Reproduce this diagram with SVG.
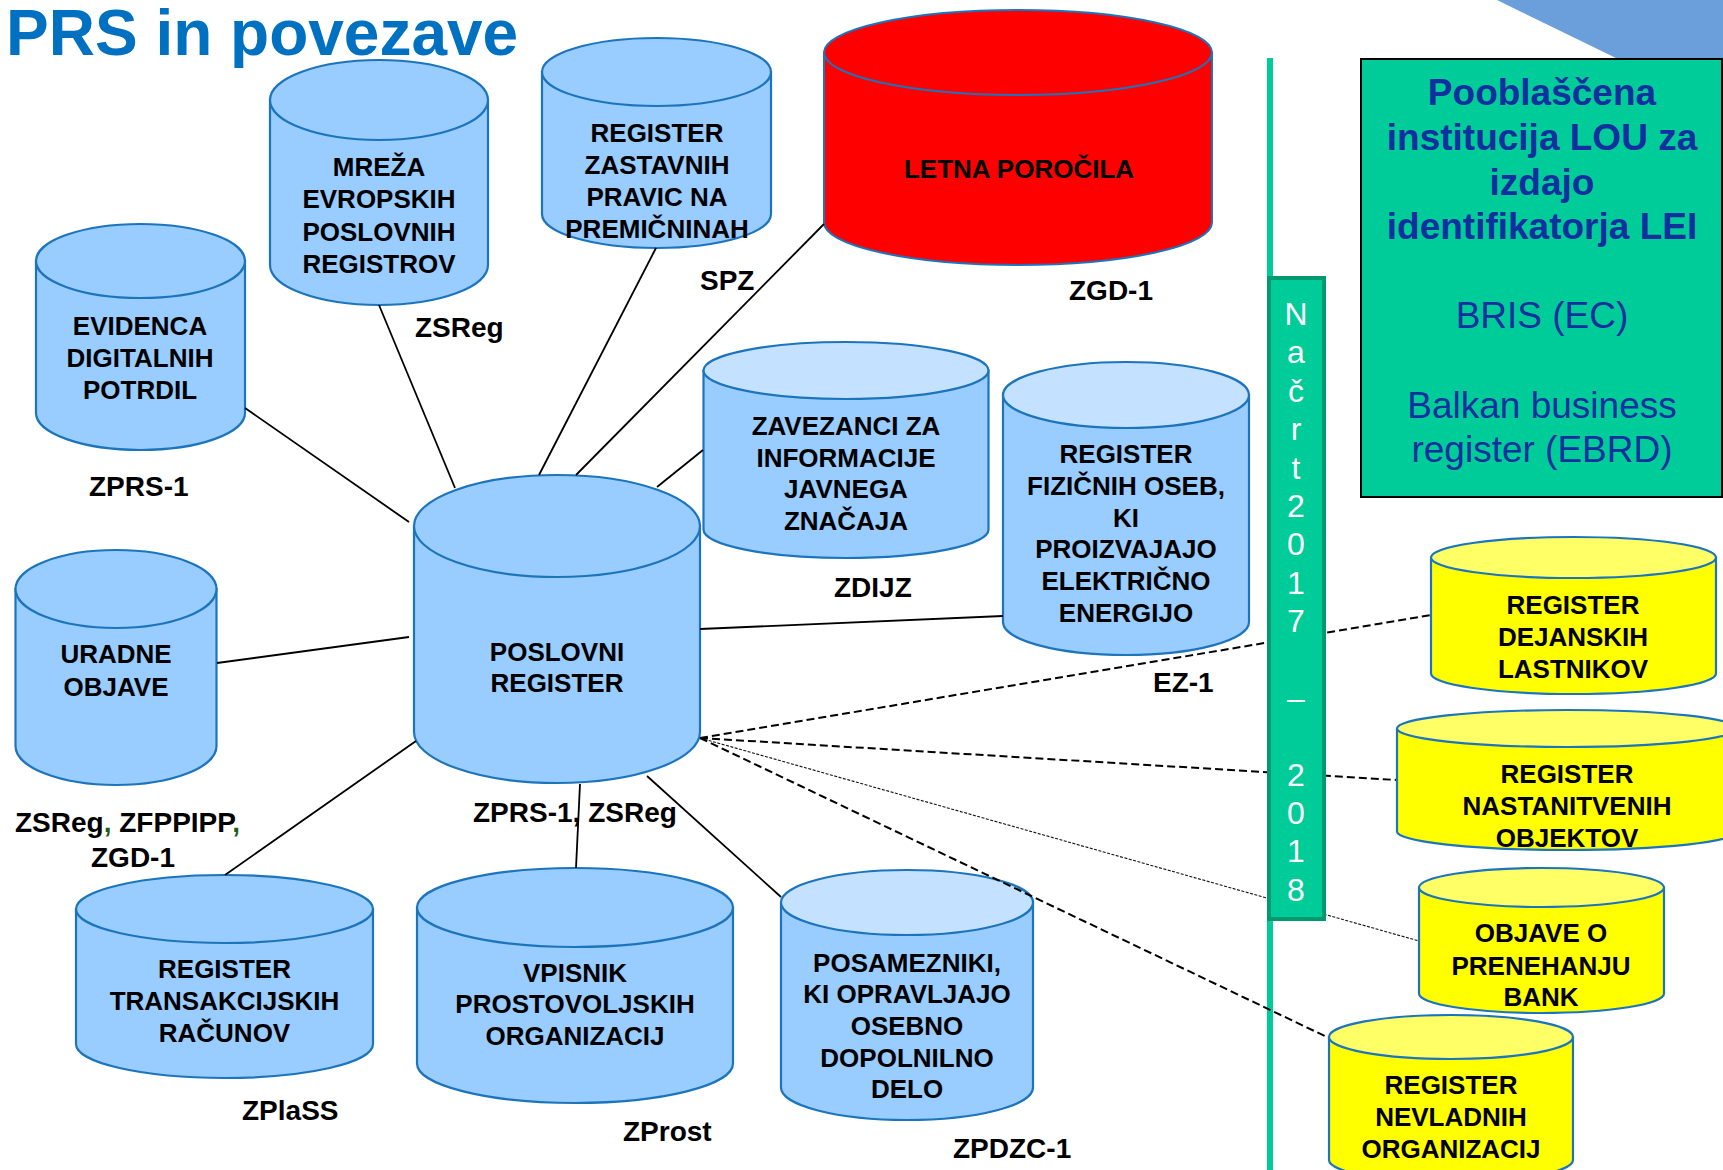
<svg xmlns="http://www.w3.org/2000/svg" width="1723" height="1170" viewBox="0 0 1723 1170">
<style>
.cb{fill:#99CCFF;stroke:#1C75BC;stroke-width:2.2}
.cl{fill:#C4E1FF;stroke:#1C75BC;stroke-width:2.2}
.cy{fill:#FFFF00;stroke:#1C75BC;stroke-width:2.2}
.cyt{fill:#FFFF66;stroke:#1C75BC;stroke-width:2.2}
.cr{fill:#FF0000;stroke:#1C75BC;stroke-width:2}
.t{font-family:"Liberation Sans",Arial,sans-serif;font-weight:bold;font-size:26px;text-anchor:middle;fill:#000}
.lb{font-family:"Liberation Sans",Arial,sans-serif;font-weight:bold;font-size:28px;fill:#000}
.ln{stroke:#000;stroke-width:1.8;fill:none}
.dl{stroke:#000;stroke-width:2;stroke-dasharray:8 4;fill:none}
.df{stroke:#111;stroke-width:1.1;stroke-dasharray:3 1.5;fill:none}
.nc{font-family:"Liberation Sans",Arial,sans-serif;font-size:32px;text-anchor:middle;fill:#FFFFFF}
.bx{font-family:"Liberation Sans",Arial,sans-serif;font-size:37px;text-anchor:middle;fill:#112F9E}
</style>
<rect x="0" y="0" width="1723" height="1170" fill="#FFFFFF"/>
<polygon points="1497,0 1723,0 1723,60 1620,60" fill="#6A9FDC"/>
<rect x="1267" y="58" width="6" height="1112" fill="#00CC99"/>

<text x="6" y="55" font-family="Liberation Sans, Arial, sans-serif" font-weight="bold" font-size="64" fill="#0070C0">PRS in povezave</text>

<g id="mreza">
<path class="cb" d="M270,100 V265 A109,40 0 0 0 488,265 V100 Z"/>
<ellipse class="cb" cx="379" cy="100" rx="109" ry="40"/>
<text class="t" x="379" y="176">MREŽA</text>
<text class="t" x="379" y="208">EVROPSKIH</text>
<text class="t" x="379" y="241">POSLOVNIH</text>
<text class="t" x="379" y="273">REGISTROV</text>
</g>

<g id="zastavnih">
<path class="cb" d="M542,72 V214 A114.5,34 0 0 0 771,214 V72 Z"/>
<ellipse class="cb" cx="656.5" cy="72" rx="114.5" ry="34"/>
<text class="t" x="657" y="142">REGISTER</text>
<text class="t" x="657" y="174">ZASTAVNIH</text>
<text class="t" x="657" y="206">PRAVIC NA</text>
<text class="t" x="657" y="238">PREMIČNINAH</text>
</g>

<g id="letna">
<path class="cr" d="M824,52.5 V222.5 A194,42.5 0 0 0 1212,222.5 V52.5 Z"/>
<ellipse class="cr" cx="1018" cy="52.5" rx="194" ry="42.5"/>
<text class="t" x="1019" y="178">LETNA POROČILA</text>
</g>

<g id="evidenca">
<path class="cb" d="M36,261 V413 A104.5,37 0 0 0 245,413 V261 Z"/>
<ellipse class="cb" cx="140.5" cy="261" rx="104.5" ry="37"/>
<text class="t" x="140" y="335">EVIDENCA</text>
<text class="t" x="140" y="367">DIGITALNIH</text>
<text class="t" x="140" y="399">POTRDIL</text>
</g>

<g id="poslovni">
<path class="cb" d="M414,526 V732 A143,51 0 0 0 700,732 V526 Z"/>
<ellipse class="cb" cx="557" cy="526" rx="143" ry="51"/>
<text class="t" x="557" y="661">POSLOVNI</text>
<text class="t" x="557" y="692">REGISTER</text>
</g>

<g id="uradne">
<path class="cb" d="M15.5,589 V746 A100.5,39 0 0 0 216.5,746 V589 Z"/>
<ellipse class="cb" cx="116" cy="589" rx="100.5" ry="39"/>
<text class="t" x="116" y="663">URADNE</text>
<text class="t" x="116" y="696">OBJAVE</text>
</g>

<g id="zavezanci">
<path class="cb" d="M703.5,370.5 V529.5 A142.5,28.5 0 0 0 988.5,529.5 V370.5 Z"/>
<ellipse class="cl" cx="846" cy="370.5" rx="142.5" ry="28.5"/>
<text class="t" x="846" y="435">ZAVEZANCI ZA</text>
<text class="t" x="846" y="467">INFORMACIJE</text>
<text class="t" x="846" y="498">JAVNEGA</text>
<text class="t" x="846" y="530">ZNAČAJA</text>
</g>

<g id="fizicnih">
<path class="cb" d="M1003,395 V622 A123,33 0 0 0 1249,622 V395 Z"/>
<ellipse class="cl" cx="1126" cy="395" rx="123" ry="33"/>
<text class="t" x="1126" y="463">REGISTER</text>
<text class="t" x="1126" y="495">FIZIČNIH OSEB,</text>
<text class="t" x="1126" y="527">KI</text>
<text class="t" x="1126" y="558">PROIZVAJAJO</text>
<text class="t" x="1126" y="590">ELEKTRIČNO</text>
<text class="t" x="1126" y="622">ENERGIJO</text>
</g>

<g id="transakcijskih">
<path class="cb" d="M76,909 V1044 A148.5,34 0 0 0 373,1044 V909 Z"/>
<ellipse class="cb" cx="224.5" cy="909" rx="148.5" ry="34"/>
<text class="t" x="224.5" y="978">REGISTER</text>
<text class="t" x="224.5" y="1010">TRANSAKCIJSKIH</text>
<text class="t" x="224.5" y="1042">RAČUNOV</text>
</g>

<g id="vpisnik">
<path class="cb" d="M417,907.5 V1063.5 A158,39.5 0 0 0 733,1063.5 V907.5 Z"/>
<ellipse class="cb" cx="575" cy="907.5" rx="158" ry="39.5"/>
<text class="t" x="575" y="982">VPISNIK</text>
<text class="t" x="575" y="1013">PROSTOVOLJSKIH</text>
<text class="t" x="575" y="1045">ORGANIZACIJ</text>
</g>

<g id="posamezniki">
<path class="cb" d="M781,902.5 V1087.5 A126,32.5 0 0 0 1033,1087.5 V902.5 Z"/>
<ellipse class="cl" cx="907" cy="902.5" rx="126" ry="32.5"/>
<text class="t" x="907" y="972">POSAMEZNIKI,</text>
<text class="t" x="907" y="1003">KI OPRAVLJAJO</text>
<text class="t" x="907" y="1035">OSEBNO</text>
<text class="t" x="907" y="1067">DOPOLNILNO</text>
<text class="t" x="907" y="1098">DELO</text>
</g>

<g id="connectors">
<line class="ln" x1="245" y1="408" x2="409" y2="522"/>
<line class="ln" x1="379" y1="305" x2="455" y2="488"/>
<line class="ln" x1="656" y1="248" x2="539" y2="475"/>
<line class="ln" x1="824" y1="224" x2="576" y2="475"/>
<line class="ln" x1="703" y1="450" x2="657" y2="487"/>
<line class="ln" x1="1003" y1="616" x2="700" y2="629"/>
<line class="ln" x1="217" y1="663" x2="409" y2="637"/>
<line class="ln" x1="416" y1="741" x2="225" y2="875"/>
<line class="ln" x1="580" y1="784" x2="576" y2="868"/>
<line class="ln" x1="647" y1="776" x2="781" y2="897"/>
<line class="dl" x1="700" y1="738" x2="1431" y2="615"/>
<line class="dl" x1="700" y1="738" x2="1397" y2="780"/>
<line class="df" x1="700" y1="738" x2="1419" y2="941"/>
<line class="dl" x1="700" y1="738" x2="1329" y2="1038"/>
</g>

<g id="dejanskih">
<path class="cy" d="M1431,557.5 V673.5 A142.5,20.5 0 0 0 1716,673.5 V557.5 Z"/>
<ellipse class="cyt" cx="1573.5" cy="557.5" rx="142.5" ry="20.5"/>
<text class="t" x="1573" y="614">REGISTER</text>
<text class="t" x="1573" y="646">DEJANSKIH</text>
<text class="t" x="1573" y="678">LASTNIKOV</text>
</g>

<g id="nastanitvenih">
<path class="cy" d="M1397,728.5 V831.5 A170,18.5 0 0 0 1737,831.5 V728.5 Z"/>
<ellipse class="cyt" cx="1567" cy="728.5" rx="170" ry="18.5"/>
<text class="t" x="1567" y="783">REGISTER</text>
<text class="t" x="1567" y="815">NASTANITVENIH</text>
<text class="t" x="1567" y="847">OBJEKTOV</text>
</g>

<g id="banke">
<path class="cy" d="M1419,887.5 V993.5 A122.5,19.5 0 0 0 1664,993.5 V887.5 Z"/>
<ellipse class="cyt" cx="1541.5" cy="887.5" rx="122.5" ry="19.5"/>
<text class="t" x="1541" y="942">OBJAVE O</text>
<text class="t" x="1541" y="975">PRENEHANJU</text>
<text class="t" x="1541" y="1006">BANK</text>
</g>

<g id="nevladnih">
<path class="cy" d="M1329,1037 V1160 A122,22 0 0 0 1573,1160 V1037 Z"/>
<ellipse class="cyt" cx="1451" cy="1037" rx="122" ry="22"/>
<text class="t" x="1451" y="1094">REGISTER</text>
<text class="t" x="1451" y="1126">NEVLADNIH</text>
<text class="t" x="1451" y="1158">ORGANIZACIJ</text>
</g>

<g id="nacrt">
<rect x="1269" y="278" width="55" height="641" fill="#00CC99" stroke="#009A6E" stroke-width="4"/>
<text class="nc" x="1296" y="325">N</text>
<text class="nc" x="1296" y="363">a</text>
<text class="nc" x="1296" y="402">č</text>
<text class="nc" x="1296" y="440">r</text>
<text class="nc" x="1296" y="479">t</text>
<text class="nc" x="1296" y="517">2</text>
<text class="nc" x="1296" y="555">0</text>
<text class="nc" x="1296" y="594">1</text>
<text class="nc" x="1296" y="632">7</text>
<text class="nc" x="1296" y="709">–</text>
<text class="nc" x="1296" y="786">2</text>
<text class="nc" x="1296" y="824">0</text>
<text class="nc" x="1296" y="862">1</text>
<text class="nc" x="1296" y="901">8</text>
</g>

<g id="lou">
<rect x="1361" y="59" width="361" height="438" fill="#00CC99" stroke="#000" stroke-width="2"/>
<text class="bx" x="1542" y="105" font-weight="bold">Pooblaščena</text>
<text class="bx" x="1542" y="150" font-weight="bold">institucija LOU za</text>
<text class="bx" x="1542" y="195" font-weight="bold">izdajo</text>
<text class="bx" x="1542" y="239" font-weight="bold">identifikatorja LEI</text>
<text class="bx" x="1542" y="328">BRIS (EC)</text>
<text class="bx" x="1542" y="418">Balkan business</text>
<text class="bx" x="1542" y="462">register (EBRD)</text>
</g>

<g id="labels">
<text class="lb" x="415" y="337">ZSReg</text>
<text class="lb" x="700" y="290">SPZ</text>
<text class="lb" x="1069" y="300">ZGD-1</text>
<text class="lb" x="89" y="496">ZPRS-1</text>
<text class="lb" x="834" y="597">ZDIJZ</text>
<text class="lb" x="1153" y="692">EZ-1</text>
<text class="lb" x="15" y="832">ZSReg<tspan fill="#1E5C1E">,</tspan> ZFPPIPP<tspan fill="#1E5C1E">,</tspan></text>
<text class="lb" x="91" y="867">ZGD-1</text>
<text class="lb" x="473" y="822">ZPRS-1, ZSReg</text>
<text class="lb" x="242" y="1120">ZPlaSS</text>
<text class="lb" x="623" y="1141">ZProst</text>
<text class="lb" x="953" y="1158">ZPDZC-1</text>
</g>
</svg>
